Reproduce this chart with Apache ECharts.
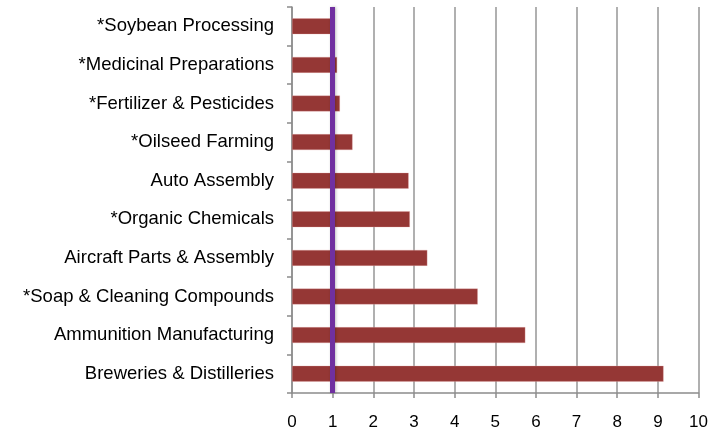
<!DOCTYPE html>
<html>
<head>
<meta charset="utf-8">
<script src="https://cdn.jsdelivr.net/npm/echarts@6/dist/echarts.min.js"></script>
<style>
  html, body { margin: 0; padding: 0; background: #fff; }
  #chart { width: 711px; height: 432px; }
</style>
</head>
<body>
<div id="chart"></div>
<script>
// Industries, listed top to bottom
const industries = [
  '*Soybean Processing',
  '*Medicinal Preparations',
  '*Fertilizer & Pesticides',
  '*Oilseed Farming',
  'Auto Assembly',
  '*Organic Chemicals',
  'Aircraft Parts & Assembly',
  '*Soap & Cleaning Compounds',
  'Ammunition Manufacturing',
  'Breweries & Distilleries'
];
const ratios = [1.03, 1.11, 1.18, 1.49, 2.87, 2.90, 3.33, 4.57, 5.74, 9.14];
const referenceValue = 1;
const axisMin = 0;
const axisMax = 10;
const axisStep = 1;

const chart = echarts.init(document.getElementById('chart'), null, { renderer: 'canvas' });
const fontFamily = '"Liberation Sans", Arial, sans-serif';

chart.setOption({
  animation: false,
  backgroundColor: '#ffffff',
  grid: { left: 292, right: 9, top: 7, bottom: 39, containLabel: false },
  xAxis: {
    type: 'value',
    min: axisMin,
    max: axisMax,
    interval: axisStep,
    axisLine: { show: true, lineStyle: { color: '#8c8c8c', width: 1.5 } },
    axisTick: { show: true, length: 5, lineStyle: { color: '#8c8c8c', width: 1.5 } },
    axisLabel: { color: '#000', fontSize: 17, fontFamily: fontFamily, margin: 21 },
    splitLine: { show: true, lineStyle: { color: '#969696', width: 1.5 } }
  },
  yAxis: {
    type: 'category',
    data: industries,
    inverse: true,
    axisLine: { show: true, lineStyle: { color: '#8c8c8c', width: 1.5 } },
    axisTick: { show: true, length: 5, lineStyle: { color: '#8c8c8c', width: 1.5 } },
    axisLabel: { color: '#000', fontSize: 18.5, fontFamily: fontFamily, margin: 18 },
    splitLine: { show: false }
  },
  series: [{
    type: 'bar',
    data: ratios,
    barWidth: 16,
    itemStyle: {
      color: '#953735',
      borderColor: 'rgba(230,170,170,0.6)',
      borderWidth: 0.5
    },
    markLine: {
      silent: true,
      symbol: 'none',
      label: { show: false },
      lineStyle: {
        color: '#7030a0',
        width: 5,
        type: 'solid',
        shadowColor: 'rgba(0,0,0,0.25)',
        shadowBlur: 3,
        shadowOffsetX: 1
      },
      data: [{ xAxis: referenceValue }]
    }
  }]
});
</script>
</body>
</html>
